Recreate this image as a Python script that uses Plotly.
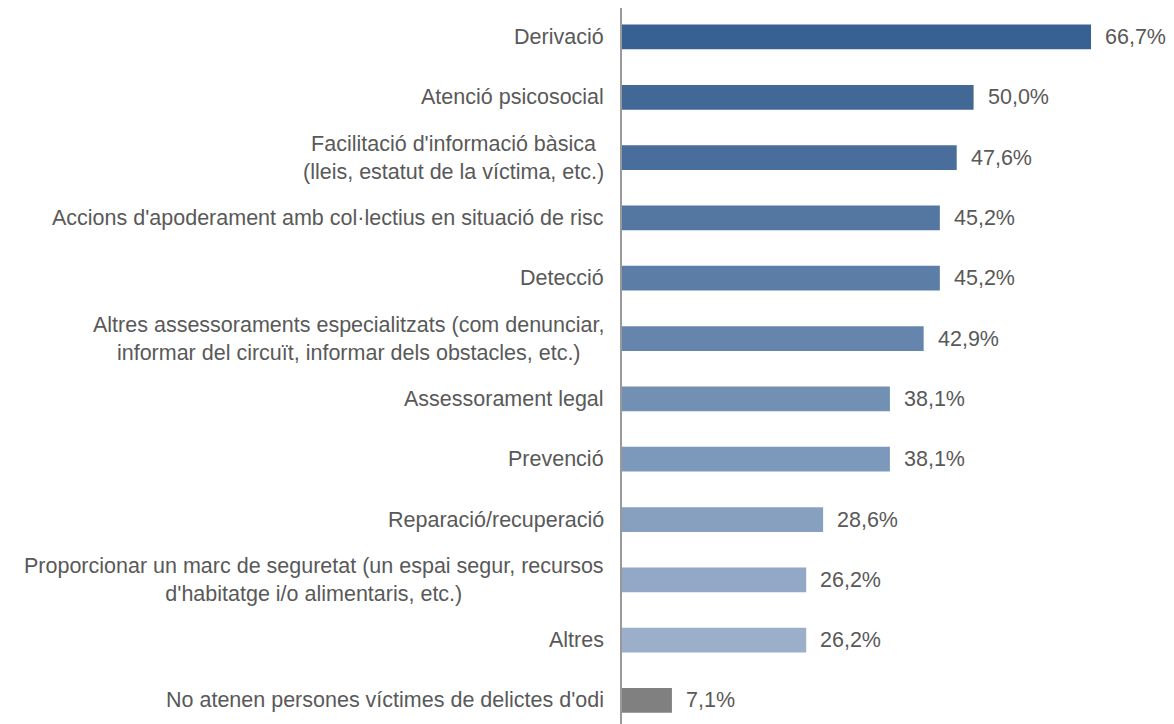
import plotly.graph_objects as go

categories = [
    "Derivació",
    "Atenció psicosocial",
    "Facilitació d'informació bàsica<br>(lleis, estatut de la víctima, etc.)",
    "Accions d'apoderament amb col·lectius en situació de risc",
    "Detecció",
    "Altres assessoraments especialitzats (com denunciar,<br>informar del circuït, informar dels obstacles, etc.)",
    "Assessorament legal",
    "Prevenció",
    "Reparació/recuperació",
    "Proporcionar un marc de seguretat (un espai segur, recursos<br>d'habitatge i/o alimentaris, etc.)",
    "Altres",
    "No atenen persones víctimes de delictes d'odi",
]
values = [66.7, 50.0, 47.6, 45.2, 45.2, 42.9, 38.1, 38.1, 28.6, 26.2, 26.2, 7.1]
colors = [
    "#366192", "#426896", "#4a6e9c", "#5477a1", "#5c7da6", "#6685ac",
    "#7190b4", "#7c99bb", "#87a0c0", "#92a8c6", "#9baeca", "#808080",
]

idx = list(range(len(categories)))

fig = go.Figure(go.Bar(
    x=values, y=idx, orientation="h",
    marker=dict(color=colors, line=dict(width=0)),
    width=0.41,
    hoverinfo="skip",
))

font_color = "#595959"
font_family = "Liberation Sans, Arial, sans-serif"
fsize = 21.5

for i, (c, v) in enumerate(zip(categories, values)):
    fig.add_annotation(
        x=v, y=i, xref="x", yref="y", text=f"{v:.1f}%".replace(".", ","),
        showarrow=False, xanchor="left", xshift=12,
        font=dict(size=fsize, color=font_color, family=font_family),
    )
    fig.add_annotation(
        x=0, y=i, xref="paper", yref="y", text=c,
        showarrow=False, xanchor="right", xshift=-16, align="center",
        font=dict(size=fsize, color=font_color, family=font_family),
    )

fig.update_layout(
    width=1166, height=716,
    margin=dict(l=614, r=0, t=0, b=0),
    plot_bgcolor="white", paper_bgcolor="white",
    showlegend=False,
    xaxis=dict(range=[0, 78.5], showgrid=False, zeroline=False,
               showticklabels=False, showline=False, ticks=""),
    yaxis=dict(range=[11.39, -0.48], showgrid=False, zeroline=False,
               showticklabels=False, ticks="", showline=True,
               linecolor="#999999", linewidth=2),
)

fig.write_html("out.html")
